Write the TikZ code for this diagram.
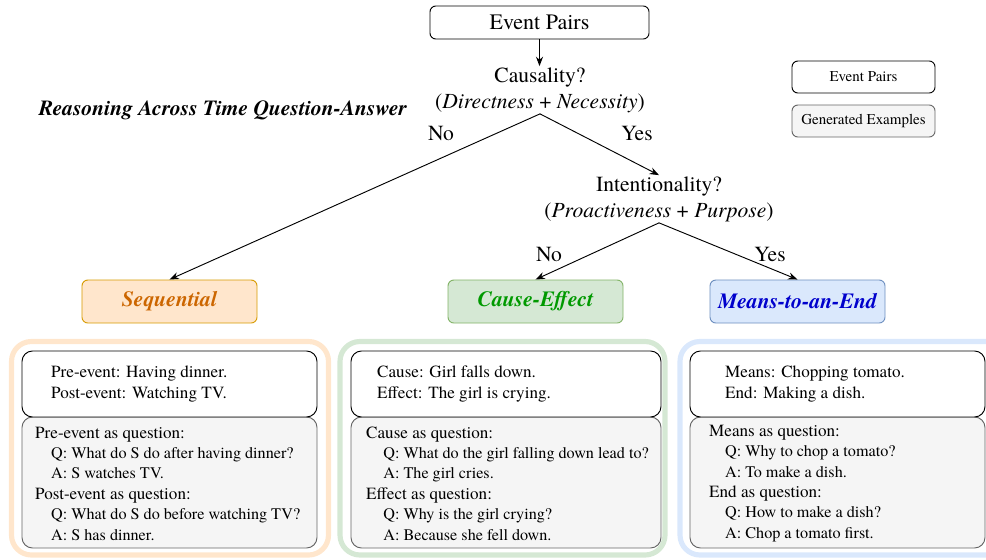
\documentclass[tikz,border=0pt]{standalone}
\usepackage{fontspec}
\setmainfont{texgyretermes}[Extension=.otf, UprightFont=*-regular, BoldFont=*-bold,
  ItalicFont=*-italic, BoldItalicFont=*-bolditalic]
\usetikzlibrary{arrows.meta,positioning}
\definecolor{seqfill}{HTML}{FFE6CC}
\definecolor{seqdraw}{HTML}{D79B00}
\definecolor{seqtext}{HTML}{CC6600}
\definecolor{cefill}{HTML}{D5E8D4}
\definecolor{cedraw}{HTML}{82B366}
\definecolor{cetext}{HTML}{009900}
\definecolor{mefill}{HTML}{DAE8FC}
\definecolor{medraw}{HTML}{6C8EBF}
\definecolor{metext}{HTML}{0000CC}
\definecolor{genfill}{HTML}{F5F5F5}
\definecolor{gendraw}{HTML}{666666}
\newcommand{\qaline}[1]{{\fontsize{13.8}{17.4}\selectfont\hspace*{13.6pt}#1}}

\begin{document}
\begin{tikzpicture}[x=0.03cm, y=-0.03cm,
  big/.style={font=\fontsize{18.4}{22}\selectfont},
  q/.style={big, align=center, inner sep=1pt},
  pairs/.style={draw, rounded corners=5pt, line width=0.8pt, fill=white, inner sep=0pt},
  gen/.style={draw=gendraw, fill=genfill, rounded corners=9pt, line width=0.8pt, inner sep=0pt},
  cat/.style={rounded corners=5pt, line width=0.8pt, minimum width=5.25cm, minimum height=1.29cm,
              font=\fontsize{18.5}{22}\selectfont\bfseries\itshape},
  outer/.style={line width=4.4pt, rounded corners=17pt},
  txt/.style={font=\fontsize{14.6}{17.4}\selectfont, align=left, anchor=west, inner sep=0pt},
  lg/.style={font=\fontsize{12.8}{15}\selectfont, minimum width=4.29cm, minimum height=0.96cm},
  arr/.style={-{Stealth[length=8pt,width=6pt]}, line width=0.8pt}]
\useasboundingbox (0,0) rectangle (986,559);
\node[pairs, big, font=\fontsize{18.8}{22}\selectfont, minimum width=6.57cm, minimum height=0.99cm] (ep) at (539.5,22.5) {Event Pairs};
\node[q] (q1) at (540,90) {Causality?\\(\textit{Directness} + \textit{Necessity})};
\node[q] (q2) at (659,199) {Intentionality?\\(\textit{Proactiveness} + \textit{Purpose})};
\node[font=\fontsize{18.4}{20}\selectfont\bfseries\itshape] (title) at (223,110) {Reasoning Across Time Question-Answer};
\node[big] (no1) at (441,133) {No};
\node[big] (yes1) at (637,133) {Yes};
\node[big] (no2) at (549,254) {No};
\node[big] (yes2) at (770,254) {Yes};
\node[pairs, lg] (lgpairs) at (863.5,77) {Event Pairs};
\node[gen, rounded corners=5pt, lg] (lggen) at (863.5,121) {Generated Examples};
\node[cat, draw=seqdraw, fill=seqfill, text=seqtext] (seq) at (169.5,301.5) {Sequential};
\node[cat, draw=cedraw, fill=cefill, text=cetext] (ce) at (535.5,301.5) {Cause-Effect};
\node[cat, draw=medraw, fill=mefill, text=metext] (me) at (797.5,301.5) {Means-to-an-End};
\draw[arr] (ep.south) -- (ep.south |- q1.north);
\draw[arr] (q1.south) -- (seq.north);
\draw[arr] (q1.south) -- (q2.north);
\draw[arr] (q2.south) -- (ce.north);
\draw[arr] (q2.south) -- (me.north);
\draw[outer, seqfill] (11.5,341.5) rectangle (328.5,555);
\draw[outer, cefill] (340,341.5) rectangle (665,555);
\draw[outer, mefill] (680,341.5) rectangle (1010,555);
\node[gen, minimum width=8.85cm, minimum height=3.93cm] (seqgen) at (169.5,482.5) {};
\node[pairs, rounded corners=9pt, minimum width=8.85cm, minimum height=1.98cm] (seqpair) at (169.5,384) {};
\node[gen, minimum width=9.3cm, minimum height=3.93cm] (cegen) at (506,482.5) {};
\node[pairs, rounded corners=9pt, minimum width=9.3cm, minimum height=1.98cm] (cepair) at (506,384) {};
\node[gen, minimum width=8.85cm, minimum height=3.93cm] (megen) at (837.5,482.5) {};
\node[pairs, rounded corners=9pt, minimum width=8.85cm, minimum height=1.98cm] (mepair) at (837.5,384) {};
\node[txt] (seqp) at (51,384) {Pre-event: Having dinner.\\Post-event: Watching TV.};
\node[txt] (seqq) at (35,483.5) {Pre-event as question:\\
  \qaline{Q: What do S do after having dinner?}\\
  \qaline{A: S watches TV.}\\
  Post-event as question:\\
  \qaline{Q: What do S do before watching TV?}\\
  \qaline{A: S has dinner.}};
\node[txt] (cep) at (377,384) {Cause: Girl falls down.\\Effect: The girl is crying.};
\node[txt] (ceq) at (366,483.5) {Cause as question:\\
  \qaline{\hspace*{1pt}Q: What do the girl falling down lead to?}\\
  \qaline{\hspace*{1pt}A: The girl cries.}\\
  Effect as question:\\
  \qaline{\hspace*{1pt}Q: Why is the girl crying?}\\
  \qaline{\hspace*{1pt}A: Because she fell down.}};
\node[txt] (mep) at (725,384) {Means: Chopping tomato.\\End: Making a dish.};
\node[txt] (meq) at (709,483.5) {Means as question:\\
  \qaline{Q: Why to chop a tomato?}\\
  \qaline{A: To make a dish.}\\
  End as question:\\
  \qaline{Q: How to make a dish?}\\
  \qaline{A: Chop a tomato first.}};
\end{tikzpicture}
\end{document}
